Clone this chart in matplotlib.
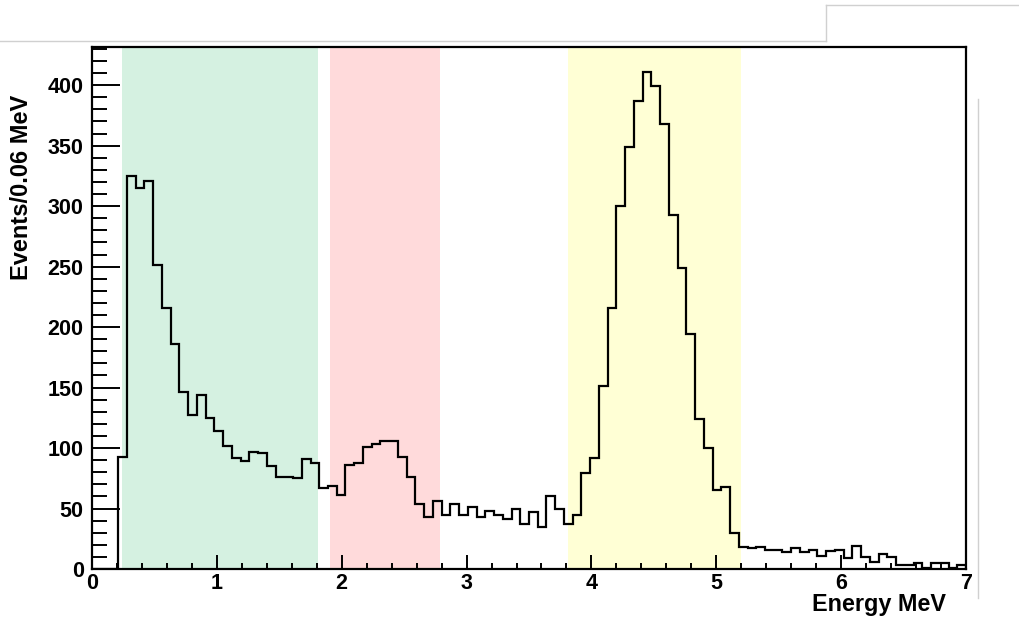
import numpy as np
import matplotlib.pyplot as plt
from matplotlib.lines import Line2D
from matplotlib.ticker import MultipleLocator

plt.rcParams['font.family'] = ['Liberation Sans', 'DejaVu Sans']
plt.rcParams['font.weight'] = 'bold'

# histogram: 100 bins of 0.07 MeV from 0 to 7 MeV
bin_width = 0.07
counts = [
    0, 0, 0, 93, 325, 315, 321, 251, 216, 186,
    146, 127, 144, 125, 114, 102, 92, 89, 97, 96,
    85, 76, 76, 75, 91, 88, 67, 69, 61, 86,
    88, 101, 103, 106, 106, 93, 76, 54, 43, 56,
    45, 54, 45, 51, 43, 48, 45, 41, 50, 37,
    47, 35, 60, 50, 37, 45, 79, 92, 151, 216,
    300, 349, 387, 411, 399, 368, 293, 249, 194, 124,
    100, 65, 68, 30, 18, 17, 18, 16, 16, 14,
    17, 14, 16, 11, 15, 16, 9, 19, 10, 6,
    12, 10, 3, 3, 5, 1, 5, 5, 1, 3,
]

# shaded energy windows (MeV)
bands = [(0.24, 1.81), (1.91, 2.79), (3.81, 5.20)]
band_colors = ['#d5f1e1', '#ffdadb', '#ffffd5']

xlabel = 'Energy MeV'
ylabel = 'Events/0.06 MeV'

W, H = 1019, 620
fig = plt.figure(figsize=(W / 100, H / 100), dpi=100)
ax = fig.add_axes([92 / W, (H - 569) / H, (966 - 92) / W, (569 - 47) / H])

edges = np.arange(len(counts) + 1) * bin_width
for (lo, hi), c in zip(bands, band_colors):
    ax.axvspan(lo, hi, color=c, lw=0, zorder=0)
ax.stairs(counts, edges, color='black', lw=1.6, zorder=2)

ax.set_xlim(0, 7)
ax.set_ylim(0, 1.05 * max(counts))
ax.xaxis.set_major_locator(MultipleLocator(1))
ax.xaxis.set_minor_locator(MultipleLocator(0.2))
ax.yaxis.set_major_locator(MultipleLocator(50))
ax.yaxis.set_minor_locator(MultipleLocator(10))
ax.tick_params(axis='both', which='both', direction='in', width=1.4,
               top=False, right=False, labelsize=15.5, colors='black')
ax.tick_params(axis='x', which='major', length=10, pad=3)
ax.tick_params(axis='x', which='minor', length=4.5)
ax.tick_params(axis='y', which='major', length=20, pad=6)
ax.tick_params(axis='y', which='minor', length=11)
for lab in ax.get_xticklabels() + ax.get_yticklabels():
    lab.set_fontweight('bold')
for s in ax.spines.values():
    s.set_linewidth(1.6)
    s.set_zorder(3)

fig.text(946 / W, 1 - 605 / H, xlabel, ha='right', va='center',
         fontsize=16.8, fontweight='bold')
fig.text(22 / W, 1 - 95 / H, ylabel, ha='center', va='top', rotation=90,
         fontsize=17, fontweight='bold')

# canvas decoration lines
gray = '#d0d0d0'
for xs, ys in [((0, 826), (41, 41)), ((826, 826), (41, 5)),
               ((826, 1019), (5, 5)), ((978, 978), (99, 598))]:
    fig.add_artist(Line2D([x / W for x in xs], [1 - y / H for y in ys],
                          color=gray, lw=1.0, transform=fig.transFigure))

fig.savefig('out.png', dpi=100)
